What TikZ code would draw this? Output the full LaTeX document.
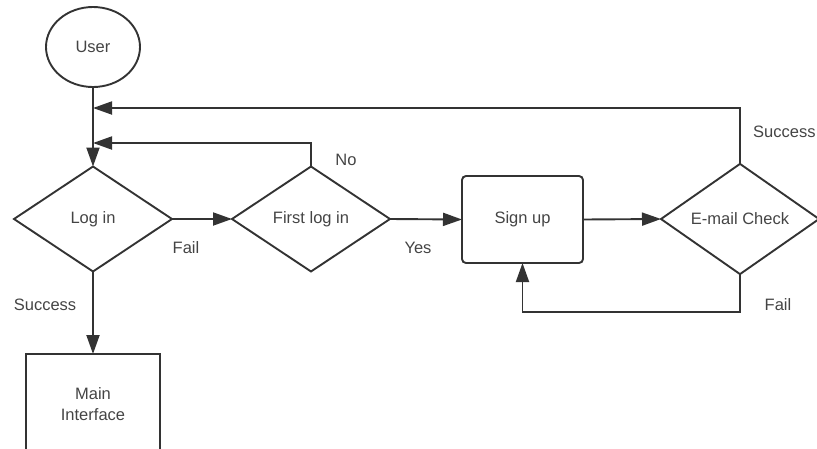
\documentclass[tikz,border=0pt]{standalone}
\usepackage{fontspec}
\setmainfont{Liberation Sans}
\usetikzlibrary{shapes.geometric,arrows.meta}
\definecolor{ink}{HTML}{333333}
\definecolor{txt}{HTML}{444444}
\tikzset{
  flow/.style={draw=ink, line width=1.9pt, text=txt, font=\fontsize{16.5}{21}\selectfont, outer sep=0pt, inner sep=0pt, align=center},
  decision/.style={flow, diamond, minimum width=158pt, minimum height=105pt},
  terminal/.style={flow, ellipse, minimum width=94pt, minimum height=80pt},
  process/.style={flow, rectangle, minimum width=121pt, minimum height=87pt, rounded corners=4pt},
  screen/.style={flow, rectangle, minimum width=134pt, minimum height=100pt},
  link/.style={draw=ink, line width=1.9pt, -{Triangle[length=19pt, width=13pt]}},
  tag/.style={text=txt, font=\fontsize{16.5}{21}\selectfont, inner sep=0pt}
}
\begin{document}
\begin{tikzpicture}[x=1pt, y=-1pt]
  \useasboundingbox (0,0) rectangle (817,448);

  % nodes
  \node[terminal] (user) at (93,47) {User};
  \node[decision] (login) at (93,219) {\raisebox{-2pt}{Log in}};
  \node[decision] (first) at (311,219) {\raisebox{-2pt}{First log in}};
  \node[process]  (signup) at (522.5,219.5) {Sign up};
  \node[decision] (email) at (740,219) {E-mail Check};
  \node[screen]   (main) at (93,404) {Main\\Interface};

  % bend points of the return paths
  \coordinate (succTop) at (740,108);
  \coordinate (succEnd) at (93,108);
  \coordinate (noTop) at (311,143);
  \coordinate (noEnd) at (93,143);
  \coordinate (failLow) at (740,312);
  \coordinate (failLeft) at (signup.south |- failLow);

  % connectors
  \draw[link] (user.south) -- (login.north);
  \draw[link] (login.east) -- (first.west);
  \draw[link] (first.east) -- (signup.west);
  \draw[link] (signup.east) -- (email.west);
  \draw[link] (login.south) -- (main.north);
  \draw[link] (first.north) -- (noTop) -- (noEnd);
  \draw[link] (email.north) -- (succTop) -- (succEnd);
  \draw[link] (email.south) -- (failLow) -- (failLeft) -- (signup.south);

  % edge labels
  \node[tag] (lNo) at (346,160) {No};
  \node[tag] (lFail) at (186,248) {Fail};
  \node[tag] (lYes) at (418,248) {Yes};
  \node[tag] (lSuccL) at (45,305) {Success};
  \node[tag, anchor=west] (lSuccR) at (753,132) {Success};
  \node[tag] (lFailR) at (778,305) {Fail};
\end{tikzpicture}
\end{document}
